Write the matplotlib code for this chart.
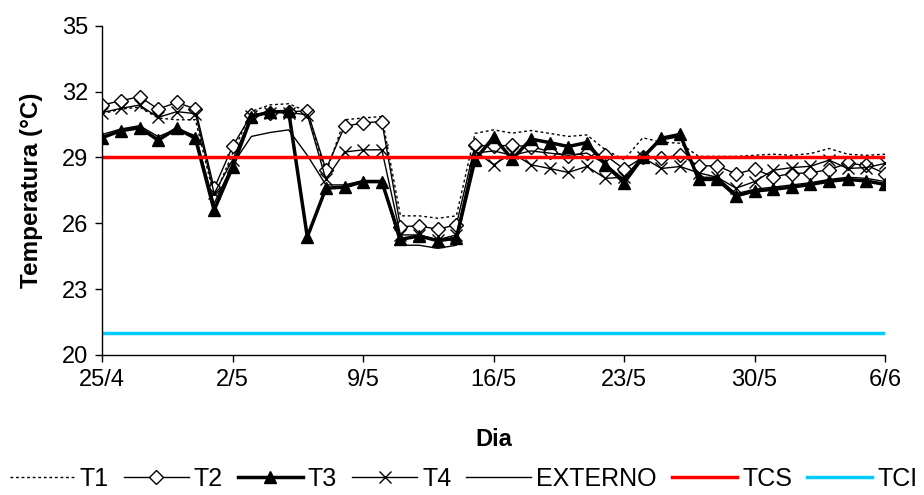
import numpy as np
import matplotlib
matplotlib.use("Agg")
import matplotlib.pyplot as plt

plt.rcParams['font.family'] = ['Liberation Sans', 'DejaVu Sans']

days = np.arange(43)
tick_pos = [0, 7, 14, 21, 28, 35, 42]
tick_labels = ["25/4", "2/5", "9/5", "16/5", "23/5", "30/5", "6/6"]

T1 = [31.0, 31.2, 31.3, 30.8, 30.72, 30.72, 27.2, 29.2, 31.1, 31.4, 31.45, 31.1, 28.3,
      30.72, 30.8, 30.87, 26.34, 26.34, 26.23, 26.34, 30.1, 30.26, 30.11, 30.23, 30.1,
      29.96, 30.03, 29.35, 28.9, 29.9, 29.7, 29.65, 29.05, 29.05, 29.05, 29.1, 29.15,
      29.1, 29.18, 29.41, 29.15, 29.1, 29.15]
T2 = [31.39, 31.59, 31.77, 31.21, 31.51, 31.21, 27.59, 29.52, 30.95, 31.05, 31.08, 31.13,
      28.45, 30.42, 30.58, 30.64, 25.85, 25.88, 25.73, 25.93, 29.55, 29.53, 29.55, 29.5,
      29.27, 29.08, 29.2, 29.1, 28.47, 29.0, 28.97, 29.12, 28.62, 28.62, 28.25, 28.47,
      28.12, 28.27, 28.3, 28.45, 28.73, 28.65, 28.27]
T3 = [29.91, 30.22, 30.36, 29.79, 30.33, 29.87, 26.6, 28.58, 30.86, 31.08, 31.1, 25.38,
      27.6, 27.65, 27.9, 27.9, 25.27, 25.42, 25.21, 25.32, 28.9, 29.93, 28.92, 29.84,
      29.68, 29.5, 29.68, 28.67, 27.85, 29.0, 29.88, 30.05, 28.0, 28.0, 27.25, 27.47,
      27.55, 27.65, 27.77, 27.92, 28.0, 27.93, 27.77]
T4 = [31.05, 31.24, 31.39, 30.83, 31.09, 31.0, 27.36, 28.9, 30.9, 31.05, 31.05, 30.95,
      28.0, 29.25, 29.35, 29.35, 25.47, 25.47, 25.25, 25.47, 29.3, 28.67, 29.2, 28.67,
      28.5, 28.32, 28.59, 28.05, 28.1, 29.0, 28.5, 28.59, 28.3, 28.1, 27.6, 27.9, 28.42,
      28.54, 28.6, 28.88, 28.5, 28.54, 28.73]
EXTERNO = [30.05, 30.3, 30.45, 29.95, 30.3, 30.0, 26.9, 28.7, 29.96, 30.14, 30.26, 29.1,
           27.75, 27.75, 27.95, 27.95, 25.0, 25.0, 24.86, 25.0, 29.2, 29.3, 29.1, 29.3,
           29.2, 29.1, 29.2, 28.7, 28.0, 29.1, 29.8, 29.95, 28.1, 28.1, 27.35, 27.55,
           27.65, 27.75, 27.85, 28.0, 28.1, 28.05, 27.9]
TCS = 29.0
TCI = 21.0

fig = plt.figure(figsize=(9.24, 4.95), dpi=100)
ax = fig.add_axes([0.1107, 0.283, 0.8471, 0.6647])

ax.plot(days, T1, color='black', lw=1.0, linestyle=(0, (2, 2)), label='T1')
ax.plot(days, T2, color='black', lw=1.0, marker='D', markersize=7,
        markerfacecolor='white', markeredgecolor='black', markeredgewidth=1.0, label='T2')
ax.plot(days, T3, color='black', lw=2.5, marker='^', markersize=8,
        markerfacecolor='black', markeredgecolor='black', label='T3')
ax.plot(days, T4, color='black', lw=1.0, marker='x', markersize=8,
        markeredgewidth=1.0, label='T4')
ax.plot(days, EXTERNO, color='black', lw=1.0, label='EXTERNO')
ax.plot(days, [TCS] * len(days), color='#FF0000', lw=2.5, label='TCS')
ax.plot(days, [TCI] * len(days), color='#00CCFF', lw=2.5, label='TCI')

ax.set_xlim(0, 42)
ax.set_ylim(20, 35)
ax.set_xticks(tick_pos)
ax.set_xticklabels(tick_labels)
ax.set_yticks([20, 23, 26, 29, 32, 35])
ax.tick_params(axis='both', labelsize=17, length=5, width=1, direction='out', pad=5)
for s in ['top', 'right']:
    ax.spines[s].set_visible(False)
for s in ['left', 'bottom']:
    ax.spines[s].set_linewidth(1.0)

ax.set_ylabel('Temperatura (°C)', fontsize=17.5, fontweight='bold')
ax.set_xlabel('Dia', fontsize=17, fontweight='bold')
ax.yaxis.set_label_coords(-0.076, 0.5)
ax.xaxis.set_label_coords(0.5, -0.222)

leg = fig.legend(loc='center', bbox_to_anchor=(0.5016, 0.032), ncol=7, frameon=False,
                 fontsize=18, handlelength=2.6, handletextpad=0.2, columnspacing=0.6,
                 borderpad=0.0, borderaxespad=0.0)

fig.savefig('out.png', dpi=100)
